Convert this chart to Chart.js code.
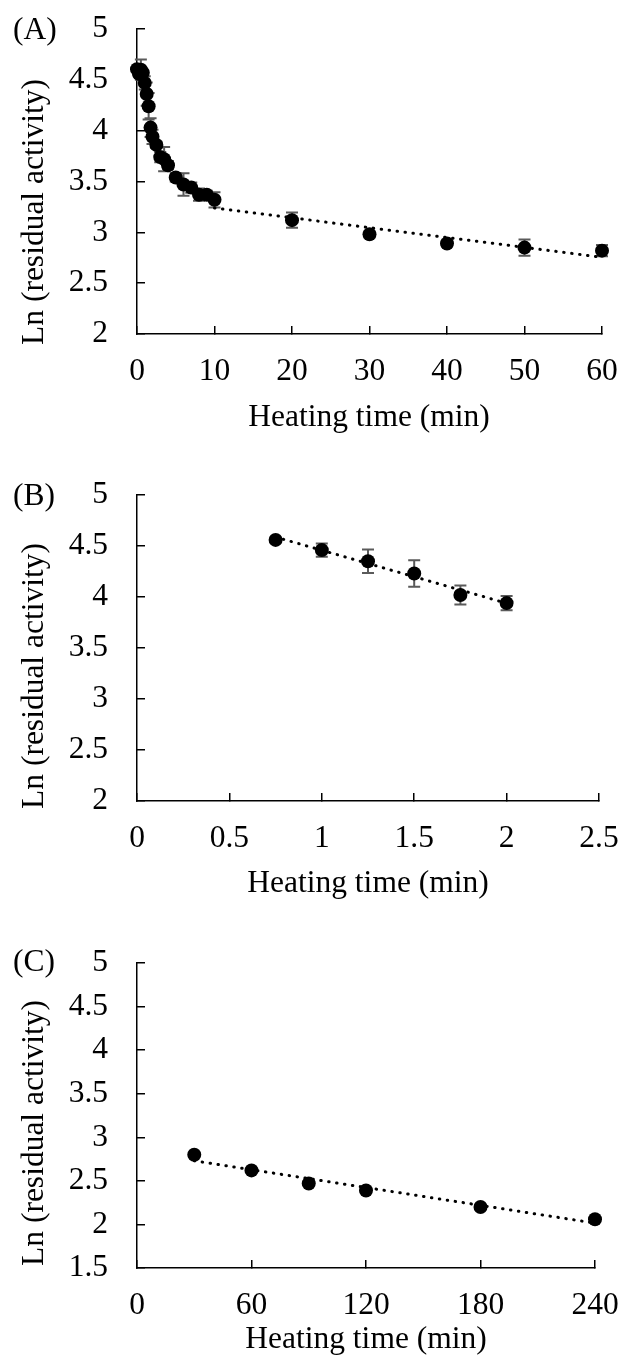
<!DOCTYPE html>
<html><head><meta charset="utf-8">
<script src="https://cdn.jsdelivr.net/npm/chart.js@4.4.1/dist/chart.umd.min.js"></script>
<style>
html,body{margin:0;padding:0;background:#fff;width:622px;height:1366px;overflow:hidden}
.p{position:absolute;left:0;width:622px}
canvas{display:block}
</style></head><body>
<div class="p" style="top:0px;height:455px"><canvas id="cA" width="622" height="455"></canvas></div>
<div class="p" style="top:455px;height:466px"><canvas id="cB" width="622" height="466"></canvas></div>
<div class="p" style="top:921px;height:445px"><canvas id="cC" width="622" height="445"></canvas></div>
<script>
const FONT = "'Liberation Serif', 'Times New Roman', serif";
const FSIZE = 31.5;

// ---- Panel A ----
const timeA = [0, 0.25, 0.5, 0.75, 1, 1.25, 1.5, 1.75, 2, 2.5, 3, 3.5, 4, 5, 6, 7, 8, 9, 10, 20, 30, 40, 50, 60];
const lnA   = [4.605, 4.56, 4.60, 4.57, 4.47, 4.36, 4.24, 4.03, 3.94, 3.86, 3.74, 3.72, 3.66, 3.54, 3.47, 3.44, 3.37, 3.37, 3.32, 3.12, 2.98, 2.89, 2.85, 2.82];
const errA  = [0, 0.03, 0.10, 0.02, 0.065, 0.115, 0.13, 0.093, 0.07, 0.03, 0.05, 0.12, 0.04, 0.04, 0.11, 0.05, 0.06, 0.04, 0.075, 0.075, 0.03, 0.03, 0.08, 0.055];
const trendTimeA = [10, 60];
const trendLnA   = [3.24, 2.755];
const xTicksA = [0, 10, 20, 30, 40, 50, 60];
const yTicksA = [2, 2.5, 3, 3.5, 4, 4.5, 5];

// ---- Panel B ----
const timeB = [0.75, 1, 1.25, 1.5, 1.75, 2];
const lnB   = [4.56, 4.46, 4.35, 4.23, 4.02, 3.94];
const errB  = [0.02, 0.065, 0.115, 0.13, 0.093, 0.07];
const trendTimeB = [0.75, 2];
const trendLnB   = [4.588, 3.939];
const xTicksB = [0, 0.5, 1, 1.5, 2, 2.5];
const yTicksB = [2, 2.5, 3, 3.5, 4, 4.5, 5];

// ---- Panel C ----
const timeC = [30, 60, 90, 120, 180, 240];
const lnC   = [2.80, 2.62, 2.47, 2.39, 2.20, 2.06];
const errC  = [0.02, 0.02, 0.02, 0.02, 0.02, 0.02];
const trendTimeC = [30, 240];
const trendLnC   = [2.73, 2.015];
const xTicksC = [0, 60, 120, 180, 240];
const yTicksC = [1.5, 2, 2.5, 3, 3.5, 4, 4.5, 5];

const yTitle = 'Ln (residual activity)';
const xTitle = 'Heating time (min)';

const errPlugin = {
  id: 'errbars',
  beforeDatasetsDraw(chart, args, o) {
    const ds = chart.data.datasets[0];
    const xs = chart.scales.x, ys = chart.scales.y, ctx = chart.ctx;
    ctx.save();
    ctx.strokeStyle = '#5a5a5a';
    ctx.lineWidth = 2;
    (o.errors || []).forEach((e, i) => {
      if (!e) return;
      const p = ds.data[i];
      const px = xs.getPixelForValue(p.x);
      const y1 = ys.getPixelForValue(p.y + e), y2 = ys.getPixelForValue(p.y - e);
      ctx.beginPath();
      ctx.moveTo(px, y1); ctx.lineTo(px, y2);
      ctx.moveTo(px - 6, y1); ctx.lineTo(px + 6, y1);
      ctx.moveTo(px - 6, y2); ctx.lineTo(px + 6, y2);
      ctx.stroke();
    });
    ctx.restore();
  }
};

const textPlugin = {
  id: 'texts',
  afterDraw(chart, args, o) {
    const ctx = chart.ctx;
    ctx.save();
    ctx.fillStyle = '#000';
    ctx.font = FSIZE + 'px ' + FONT;
    ctx.textBaseline = 'middle';
    ctx.textAlign = 'left';
    ctx.fillText(o.panel, o.panelX, o.panelY);
    ctx.textAlign = 'center';
    ctx.fillText(o.xtitle, o.xtitleX, o.xtitleY);
    ctx.translate(o.ytitleX, o.ytitleY);
    ctx.rotate(-Math.PI / 2);
    ctx.fillText(o.ytitle, 0, 0);
    ctx.restore();
  }
};

function zeroPad(s) { s.paddingTop = 0; s.paddingBottom = 0; s.paddingLeft = 0; s.paddingRight = 0; }

function makeChart(id, t, v, err, tt, tv, xt, yt, geom, txt) {
  const pts = t.map((x, i) => ({x: x, y: v[i]}));
  const trend = tt.map((x, i) => ({x: x, y: tv[i]}));
  const tickFont = {family: FONT, size: FSIZE};
  new Chart(document.getElementById(id), {
    type: 'scatter',
    data: {
      datasets: [
        {data: pts, showLine: false, pointRadius: 7, pointHoverRadius: 7, clip: false,
         backgroundColor: '#000', borderColor: '#000', pointBorderWidth: 0, order: 0},
        {data: trend, showLine: true, pointRadius: 0, borderColor: '#000', borderWidth: 3, clip: false,
         borderDash: [0.5, 7.5], borderCapStyle: 'round', fill: false, order: 1}
      ]
    },
    options: {
      responsive: false, animation: false, events: [],
      layout: {padding: {left: 0, right: geom.right, top: geom.top, bottom: 0}},
      plugins: {legend: {display: false}, tooltip: {enabled: false},
        errbars: {errors: err}, texts: txt},
      scales: {
        x: {type: 'linear', min: xt[0], max: xt[xt.length - 1],
          afterBuildTicks: s => { s.ticks = xt.map(q => ({value: q})); },
          afterFit: s => { s.height = geom.xh; zeroPad(s); },
          ticks: {color: '#000', font: tickFont, padding: 27, maxRotation: 0, autoSkip: false,
            callback: q => String(q)},
          grid: {drawOnChartArea: false, tickLength: -8, color: '#000', lineWidth: 1.5},
          border: {color: '#000', width: 1.5}
        },
        y: {type: 'linear', min: yt[0], max: yt[yt.length - 1],
          afterBuildTicks: s => { s.ticks = yt.map(q => ({value: q})); },
          afterFit: s => { s.width = 137; zeroPad(s); },
          ticks: {color: '#000', font: tickFont, padding: 37, autoSkip: false,
            callback: q => String(q)},
          grid: {drawOnChartArea: false, tickLength: -8, color: '#000', lineWidth: 1.5},
          border: {color: '#000', width: 1.5}
        }
      }
    },
    plugins: [errPlugin, textPlugin]
  });
}

makeChart('cA', timeA, lnA, errA, trendTimeA, trendLnA, xTicksA, yTicksA,
  {right: 20, top: 29, xh: 121},
  {panel: '(A)', panelX: 13, panelY: 31, xtitle: xTitle, xtitleX: 369, xtitleY: 418, ytitle: yTitle, ytitleX: 35, ytitleY: 212});
makeChart('cB', timeB, lnB, errB, trendTimeB, trendLnB, xTicksB, yTicksB,
  {right: 23, top: 40, xh: 120},
  {panel: '(B)', panelX: 13, panelY: 42, xtitle: xTitle, xtitleX: 368, xtitleY: 429, ytitle: yTitle, ytitleX: 35, ytitleY: 221});
makeChart('cC', timeC, lnC, errC, trendTimeC, trendLnC, xTicksC, yTicksC,
  {right: 27, top: 42, xh: 98},
  {panel: '(C)', panelX: 13, panelY: 42, xtitle: xTitle, xtitleX: 366, xtitleY: 419, ytitle: yTitle, ytitleX: 35, ytitleY: 212});
</script>
</body></html>
